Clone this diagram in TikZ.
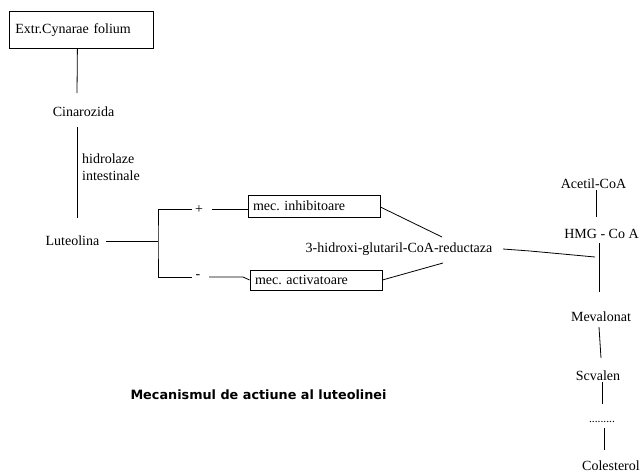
\documentclass[tikz,border=0pt]{standalone}
\usepackage{fontspec}
\setmainfont{Liberation Serif}
\newfontfamily\titlefont{DejaVu Sans}
\usetikzlibrary{calc}
\begin{document}
\frenchspacing
\begin{tikzpicture}[x=1pt,y=-1pt,
  txt/.style={inner sep=0pt, font=\fontsize{14}{17}\selectfont},
  boxnode/.style={draw, line width=0.8pt, align=left, inner ysep=0pt, font=\fontsize{14}{17}\selectfont},
  conn/.style={line width=0.8pt}]
\useasboundingbox (0,0) rectangle (643,474);
% nodes
\node[boxnode, anchor=north west, text width=132pt, inner xsep=6pt, minimum height=37pt] (extr) at (9,11) {Extr.Cynarae folium};
\node[txt] (cin) at (83.5,112) {Cinarozida};
\node[txt, anchor=west, align=left] (hidro) at (82,167.5) {hidrolaze\\intestinale};
\node[txt] (lut) at (72.5,241) {Luteolina};
\coordinate (fork) at (158,241);
\node[txt] (plus) at (199,210) {+};
\node[txt] (minus) at (198,277) {-};
\node[boxnode, text width=122pt, inner xsep=5pt, minimum height=22pt] (inh) at (314,206) {mec.\ inhibitoare};
\node[boxnode, text width=122pt, inner xsep=5pt, minimum height=20pt] (act) at (316,280) {mec.\ activatoare};
\node[txt] (hmgr) at (399,249) {3-hidroxi-glutaril-CoA-reductaza};
\node[txt] (acetil) at (593.5,184) {Acetil-CoA};
\node[txt] (hmg) at (601.5,234) {HMG - Co A};
\node[txt] (meva) at (601,317) {Mevalonat};
\node[txt] (scv) at (598,376) {Scvalen};
\node[inner sep=0pt, font=\fontsize{11.5}{13}\selectfont] (dots) at (602,422) {.........};
\node[txt] (col) at (611,466) {Colesterol};
\node[inner sep=0pt, font=\titlefont\bfseries\fontsize{12.8}{15}\selectfont] (title) at (258.5,395) {Mecanismul de actiune al luteolinei};
% connectors
\draw[conn] ([xshift=-4pt]extr.south) -- ([xshift=-6.5pt,yshift=19pt]cin.center);
\draw[conn] ([xshift=-6.5pt,yshift=-15pt]cin.center) -- ([xshift=4.5pt,yshift=23pt]lut.center);
\draw[conn] ([xshift=33.5pt]lut.center) -- (fork);
\draw[conn] ([xshift=-7pt,yshift=1pt]plus.center) -| (fork) |- ([xshift=-6pt]minus.center);
\draw[conn] ([xshift=13pt,yshift=1pt]plus.center) -- ([yshift=1pt]plus.center -| inh.west);
\draw[conn] ([xshift=11pt]minus.center) -- ([xshift=45pt]minus.center) -- (act.west);
\draw[conn] ([yshift=-1pt]inh.east) -- ([xshift=43pt,yshift=12pt]hmgr.center);
\draw[conn] (act.east) -- ([xshift=44pt,yshift=-14pt]hmgr.center);
\draw[conn] ([xshift=104pt]hmgr.center) -- ([xshift=131pt,yshift=-2pt]hmgr.center) -- ([xshift=-6.5pt,yshift=-23pt]hmg.center);
\draw[conn] ([xshift=2.5pt,yshift=-6pt]acetil.center) -- ([xshift=-5.5pt,yshift=17pt]hmg.center);
\draw[conn] ([xshift=-2.5pt,yshift=-9pt]hmg.center) -- ([xshift=-2pt,yshift=25pt]meva.center);
\draw[conn] ([xshift=-2pt,yshift=-10pt]meva.center) -- ([xshift=3pt,yshift=18pt]scv.center);
\draw[conn] ([xshift=4pt,yshift=-6pt]scv.center) -- ([yshift=18pt]dots.center);
\draw[conn] ([xshift=2pt,yshift=-6pt]dots.center) -- ([xshift=-7pt,yshift=16pt]col.center);
\end{tikzpicture}
\end{document}
